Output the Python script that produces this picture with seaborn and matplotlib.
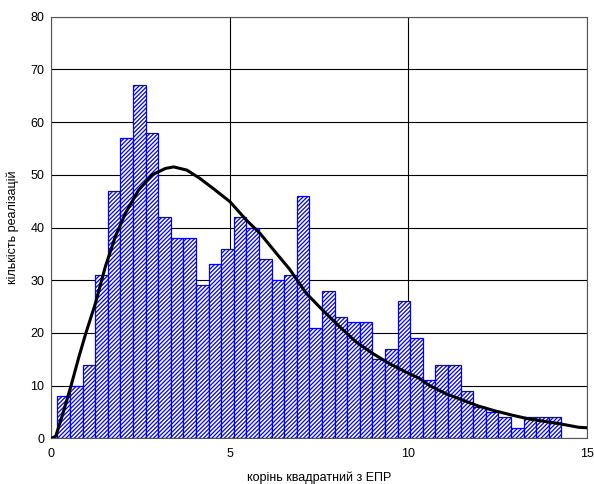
import numpy as np
import pandas as pd
import matplotlib
matplotlib.use("Agg")
import matplotlib.pyplot as plt
import seaborn as sns

# ---- data ----
counts = [8, 10, 14, 31, 47, 57, 67, 58, 42, 38,
          38, 29, 33, 36, 42, 40, 34, 30, 31, 46,
          21, 28, 23, 22, 22, 15, 17, 26, 19, 11,
          14, 14, 9, 6, 5, 4, 2, 4, 4, 4]
bin_start = 0.167
bin_width = 0.353

curve_x = [0.0, 0.12, 0.31, 0.54, 0.77, 0.96, 1.23, 1.51, 1.79, 2.07,
           2.44, 2.82, 3.19, 3.42, 3.79, 4.16, 4.53, 5.0, 5.46, 5.84,
           6.3, 6.67, 7.14, 7.6, 8.07, 8.53, 9.0, 9.46, 9.92, 10.3,
           10.57, 11.04, 11.5, 11.97, 12.43, 12.9, 13.36, 13.83, 14.29, 14.76, 15.0]
curve_y = [0.0, 0.4, 4.5, 9.8, 15.5, 19.9, 25.6, 32.6, 38.3, 42.7,
           47.1, 50.0, 51.2, 51.5, 50.9, 49.3, 47.4, 44.9, 41.4, 38.9,
           35.1, 32.1, 27.5, 24.3, 21.2, 18.3, 16.1, 14.2, 12.6, 11.4,
           10.1, 8.5, 7.3, 6.1, 5.2, 4.4, 3.7, 3.2, 2.7, 2.1, 2.0]

x_ticks = [0, 5, 10, 15]
y_ticks = [0, 10, 20, 30, 40, 50, 60, 70, 80]
x_label = "корінь квадратний з ЕПР"
y_label = "кількість реалізацій"

# ---- figure ----
sns.set_theme(style="white")
plt.rcParams["font.family"] = ["Liberation Sans", "DejaVu Sans"]
plt.rcParams["hatch.linewidth"] = 0.9

fig = plt.figure(figsize=(5.94, 4.84), dpi=100)
ax = fig.add_axes([0.0867, 0.0944, 0.9013, 0.8711])

edges = [bin_start + bin_width * i for i in range(len(counts) + 1)]
centers = [(edges[i] + edges[i + 1]) / 2 for i in range(len(counts))]
df = pd.DataFrame({"x": centers, "w": counts})

sns.histplot(data=df, x="x", weights="w", bins=edges, ax=ax,
             color="blue", alpha=1, linewidth=0.9)
for p in ax.patches:
    p.set_facecolor("white")
    p.set_edgecolor("#0000ff")
    p.set_hatch("////////")
    p.set_zorder(2)

sns.lineplot(x=curve_x, y=curve_y, ax=ax, color="black", linewidth=2.2,
             sort=True, zorder=3)

ax.set_xlim(0, 15)
ax.set_ylim(0, 80)
ax.set_xticks(x_ticks)
ax.set_yticks(y_ticks)
ax.grid(True, color="black", linewidth=0.8)
ax.set_axisbelow(True)
for s in ax.spines.values():
    s.set_color("#555555")
    s.set_linewidth(0.8)
ax.tick_params(axis="both", length=0, labelsize=9, colors="black")
ax.tick_params(axis="x", pad=7)
ax.tick_params(axis="y", pad=5)
ax.set_xlabel(x_label, fontsize=9, color="black", labelpad=8)
ax.set_ylabel(y_label, fontsize=9, color="black", labelpad=8)

fig.savefig("out.png", dpi=100)
